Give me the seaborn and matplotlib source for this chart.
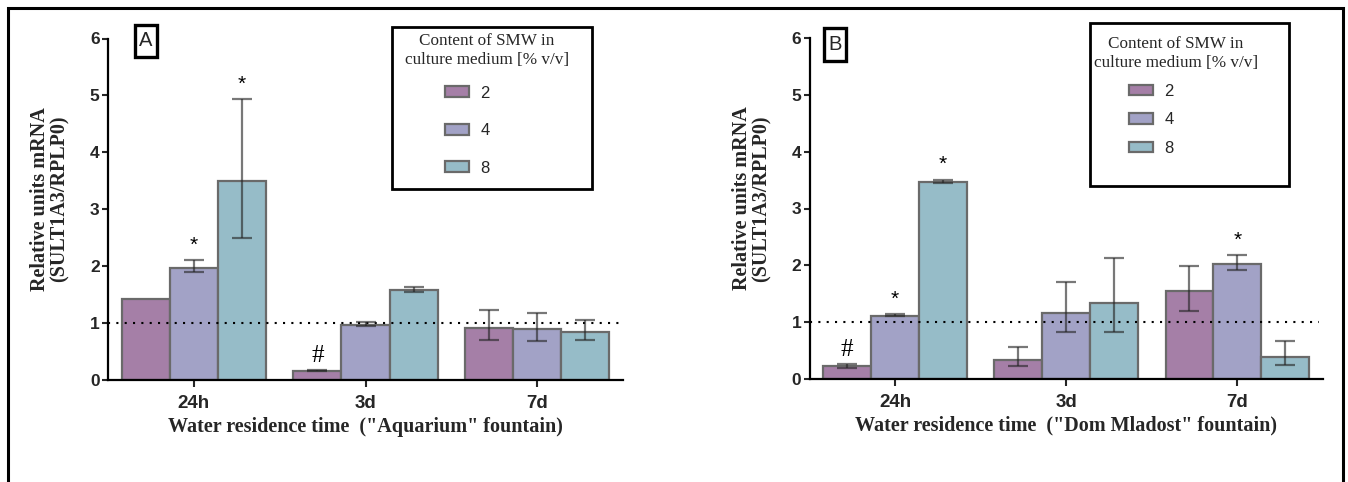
import numpy as np
import pandas as pd
import matplotlib
matplotlib.use("Agg")
import matplotlib.pyplot as plt
from matplotlib.patches import Patch, Rectangle
import seaborn as sns

sns.set_style("white")
plt.rcParams['font.family'] = ['Liberation Sans', 'DejaVu Sans']

# ---------------- data ----------------
times = ["24h", "3d", "7d"]
conc = ["2", "4", "8"]

A_mean_2 = [1.42, 0.16, 0.92]
A_mean_4 = [1.97, 0.97, 0.89]
A_mean_8 = [3.50, 1.58, 0.85]
A_hi_2 = [np.nan, 0.18, 1.23]
A_lo_2 = [np.nan, 0.15, 0.71]
A_hi_4 = [2.10, 1.02, 1.18]
A_lo_4 = [1.89, 0.95, 0.69]
A_hi_8 = [4.94, 1.63, 1.05]
A_lo_8 = [2.50, 1.55, 0.71]

B_mean_2 = [0.22, 0.34, 1.54]
B_mean_4 = [1.11, 1.17, 2.03]
B_mean_8 = [3.46, 1.33, 0.39]
B_hi_2 = [0.26, 0.56, 1.98]
B_lo_2 = [0.20, 0.22, 1.20]
B_hi_4 = [1.14, 1.70, 2.18]
B_lo_4 = [1.10, 0.83, 1.91]
B_hi_8 = [3.51, 2.13, 0.66]
B_lo_8 = [3.44, 0.83, 0.24]

# significance marks: (time index, conc index, symbol)
A_marks = [(0, 1, "*"), (0, 2, "*"), (1, 0, "#")]
B_marks = [(0, 0, "#"), (0, 1, "*"), (0, 2, "*"), (2, 1, "*")]

legend_title = "Content of SMW in\nculture medium [% v/v]"
ylabel = "Relative units mRNA\n(SULT1A3/RPLP0)"
xlabel_A = 'Water residence time  ("Aquarium" fountain)'
xlabel_B = 'Water residence time  ("Dom Mladost" fountain)'

colors = ["#A57FA7", "#A2A2C6", "#96BCC8"]
edge = "#6a6a6a"
serif = ["Liberation Serif", "DejaVu Serif"]

panels = [
    dict(tag="A", means=[A_mean_2, A_mean_4, A_mean_8], hi=[A_hi_2, A_hi_4, A_hi_8],
         lo=[A_lo_2, A_lo_4, A_lo_8], marks=A_marks, xlabel=xlabel_A,
         pos=[108/1348, 1-380/482, 515/1348, 341.5/482],
         box=(0.551, 0.559, 0.389, 0.475), title_xy=(0.736, 0.966),
         leg_anchor=(0.655, 0.862), labelspacing=1.35,
         tag_box=(0.052, 0.946, 0.043, 0.094), ylab_x=-0.074),
    dict(tag="B", means=[B_mean_2, B_mean_4, B_mean_8], hi=[B_hi_2, B_hi_4, B_hi_8],
         lo=[B_lo_2, B_lo_4, B_lo_8], marks=B_marks, xlabel=xlabel_B,
         pos=[809.5/1348, 1-379/482, 513.5/1348, 341/482],
         box=(0.546, 0.566, 0.388, 0.478), title_xy=(0.714, 0.955),
         leg_anchor=(0.623, 0.865), labelspacing=0.8,
         tag_box=(0.028, 0.933, 0.044, 0.095), ylab_x=-0.074),
]

fig = plt.figure(figsize=(13.48, 4.82), dpi=100)

# outer frame
fig.patches.append(Rectangle((8/1348, -0.2), (1343-8)/1348, 1.2 - 8/482,
                             transform=fig.transFigure, fill=False, lw=2.2,
                             edgecolor="black", zorder=0))

for p in panels:
    ax = fig.add_axes(p["pos"])
    rows = []
    for ci, c in enumerate(conc):
        for ti, t in enumerate(times):
            rows.append(dict(time=t, conc=c, value=p["means"][ci][ti]))
    df = pd.DataFrame(rows)
    sns.barplot(data=df, x="time", y="value", hue="conc", order=times, hue_order=conc,
                palette=colors, saturation=1, width=0.84, edgecolor=edge, linewidth=1.6,
                errorbar=None, legend=False, ax=ax)

    bar_containers = list(ax.containers)
    # error bars and marks from bar geometry
    for ci, cont in enumerate(bar_containers):
        for ti, bar in enumerate(cont.patches):
            xc = bar.get_x() + bar.get_width() / 2
            m = p["means"][ci][ti]
            hi = p["hi"][ci][ti]
            lo = p["lo"][ci][ti]
            if not np.isnan(hi):
                ax.errorbar([xc], [m], yerr=[[m - lo], [hi - m]], fmt="none",
                            ecolor="#262626", alpha=0.62, elinewidth=1.6, capsize=7,
                            capthick=1.6, zorder=5)
            for (mt, mc, sym) in p["marks"]:
                if mt == ti and mc == ci:
                    top = hi if not np.isnan(hi) else m
                    if sym == "*":
                        ax.text(xc, top + 0.26, sym, ha="center", va="center",
                                fontsize=15, color="black", zorder=6)
                    else:
                        ax.text(xc, top + 0.25, sym, ha="center", va="center",
                                fontsize=18, family=serif, color="black", zorder=6)

    ax.axhline(1, xmin=0, xmax=0.992, color="black", lw=1.5, ls=(0, (1, 3)), zorder=4)

    ax.set_xlim(-0.5, 2.5)
    ax.set_ylim(0, 6)
    ax.set_yticks(range(0, 7))
    for s in ["top", "right"]:
        ax.spines[s].set_visible(False)
    for s in ["left", "bottom"]:
        ax.spines[s].set_linewidth(1.6)
        ax.spines[s].set_color("black")
    ax.tick_params(axis="y", direction="out", length=4, width=1.5, pad=2,
                   labelsize=12.5, left=True)
    ax.tick_params(axis="x", direction="out", length=5, width=1.5, pad=6,
                   labelsize=13.5, bottom=True)
    for lab in ax.get_yticklabels() + ax.get_xticklabels():
        lab.set_fontweight("bold")

    ax.set_ylabel(ylabel, family=serif, fontweight="bold", fontsize=14.5, linespacing=1.0)
    ax.yaxis.set_label_coords(p["ylab_x"], 0.53)
    ax.set_xlabel(p["xlabel"], family=serif, fontweight="bold", fontsize=14.5)
    ax.xaxis.set_label_coords(0.5, -0.108)

    # panel tag
    tx, ty, tw, th = p["tag_box"]
    ax.add_patch(Rectangle((tx, ty), tw, th, transform=ax.transAxes, fill=False,
                           lw=2.4, edgecolor="black", clip_on=False, zorder=7))
    ax.text(tx + tw / 2, ty + th / 2, p["tag"], transform=ax.transAxes, ha="center",
            va="center", fontsize=14.5)

    # legend
    bx, by, bw, bh = p["box"]
    ax.add_patch(Rectangle((bx, by), bw, bh, transform=ax.transAxes, fill=False,
                           lw=2.0, edgecolor="black", clip_on=False, zorder=7))
    ax.text(p["title_xy"][0], p["title_xy"][1], legend_title, transform=ax.transAxes,
            ha="center", va="center", fontsize=12.3, linespacing=1.25, family=serif)
    handles = [Patch(facecolor=colors[i], edgecolor=edge, lw=1.6) for i in range(3)]
    ax.legend(handles, conc, loc="upper left", bbox_to_anchor=p["leg_anchor"],
              frameon=False, fontsize=12, handlelength=1.4, handleheight=0.6,
              handletextpad=0.7, labelspacing=p["labelspacing"], borderpad=0,
              borderaxespad=0)

fig.savefig("out.png", dpi=100)
